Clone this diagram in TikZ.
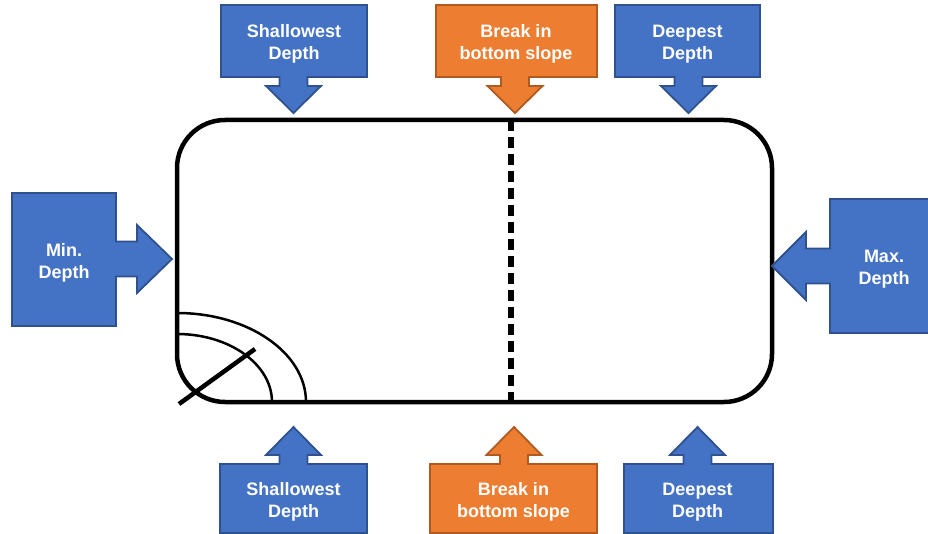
\documentclass[tikz,border=0pt]{standalone}
\usepackage{fontspec}
\setmainfont{Liberation Sans}
\definecolor{cblue}{HTML}{4472C4}
\definecolor{cblueedge}{HTML}{2F528F}
\definecolor{corange}{HTML}{ED7D31}
\definecolor{corangeedge}{HTML}{AE5A21}
\tikzset{
  blueshape/.style={fill=cblue, draw=cblueedge, line width=1.8pt, line join=miter},
  orangeshape/.style={fill=corange, draw=corangeedge, line width=1.8pt, line join=miter},
  lbl/.style={text=white, font=\fontsize{18}{21.5}\selectfont\bfseries, align=center, inner sep=0pt},
  outline/.style={draw=black, line width=4.5pt},
  breakline/.style={draw=black, line width=5.5pt, dash pattern=on 11pt off 6pt},
  arcline/.style={draw=black, line width=2.5pt},
}
% style, x1, x2, y1, y2, cx, y3, y4  (vertical callout)
\newcommand\calloutvert[8]{%
  \filldraw[#1] (#2,#4) -- (#3,#4) -- (#3,#5) -- (#6+14,#5) -- (#6+14,#7) -- (#6+27.5,#7)
    -- (#6,#8) -- (#6-27.5,#7) -- (#6-14,#7) -- (#6-14,#5) -- (#2,#5) -- cycle;}
% style, y1, y2, x1, x2, cy, x3, x4  (horizontal callout)
\newcommand\callouthorz[8]{%
  \filldraw[#1] (#4,#2) -- (#4,#3) -- (#5,#3) -- (#5,#6+17.5) -- (#7,#6+17.5) -- (#7,#6+34)
    -- (#8,#6) -- (#7,#6-34) -- (#7,#6-17.5) -- (#5,#6-17.5) -- (#5,#2) -- cycle;}
\begin{document}
\begin{tikzpicture}[x=1pt, y=-1pt]
  \useasboundingbox (0,0) rectangle (928,534);
  % main tank outline
  \draw[outline, rounded corners=48pt] (177,120) rectangle (772,402);
  \coordinate (dtop) at (511,120);
  \coordinate (dbot) at (511,402);
  \draw[breakline] (dtop) -- (dbot);
  % corner arcs and diagonal
  \draw[arcline] (177,313) .. controls (248.2,313) and (306,352.8) .. (306,402);
  \draw[arcline] (177,334) .. controls (229.5,334) and (272,364.4) .. (272,402);
  \coordinate (diagA) at (179,404);
  \coordinate (diagB) at (255,349);
  \draw[outline] (diagA) -- (diagB);
  % top callouts
  \calloutvert{blueshape}{221}{367}{5}{77}{293.5}{86}{113}
  \calloutvert{orangeshape}{436}{597}{5}{77}{515}{86}{113}
  \calloutvert{blueshape}{615}{760}{5}{77}{688.5}{86}{113}
  % bottom callouts
  \calloutvert{blueshape}{220}{367}{533}{464}{293.5}{455}{427}
  \calloutvert{orangeshape}{430}{597}{533}{464}{514}{455}{427}
  \calloutvert{blueshape}{624}{773}{533}{464}{697.5}{455}{427}
  % side callouts
  \callouthorz{blueshape}{193}{326}{12}{116}{259}{137}{172}
  \callouthorz{blueshape}{199}{333}{940}{830}{266}{806}{772}
  % labels
  \node[lbl] (tshallow) at (294,44) {Shallowest\\Depth};
  \node[lbl] (tbreak) at (516,44) {Break in\\bottom slope};
  \node[lbl] (tdeep) at (687.5,44) {Deepest\\Depth};
  \node[lbl] (bshallow) at (293.5,502) {Shallowest\\Depth};
  \node[lbl] (bbreak) at (513.5,502) {Break in\\bottom slope};
  \node[lbl] (bdeep) at (697.5,502) {Deepest\\Depth};
  \node[lbl] (lmin) at (64,263) {Min.\\Depth};
  \node[lbl] (rmax) at (884,269) {Max.\\Depth};
\end{tikzpicture}
\end{document}
